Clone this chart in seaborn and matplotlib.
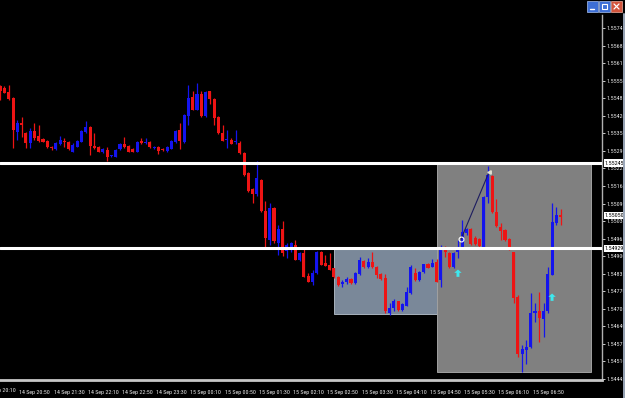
import os
import numpy as np
import pandas as pd
import seaborn as sns
import matplotlib
matplotlib.use("Agg")
import matplotlib.pyplot as plt
import matplotlib.transforms as mtransforms
from matplotlib import font_manager as fm
from matplotlib.font_manager import FontProperties
from matplotlib.textpath import TextPath
from matplotlib.patches import Rectangle
from matplotlib.path import Path

# ---------------- data (M5 candles) ----------------
opens = [1.55531, 1.55523, 1.55510, 1.55488, 1.55362, 1.55393, 1.55356, 1.55321, 1.55364, 1.55346,
         1.55334, 1.55327, 1.55306, 1.55297, 1.55316, 1.55328, 1.55325, 1.55288, 1.55306, 1.55325,
         1.55362, 1.55380, 1.55309, 1.55304, 1.55287, 1.55294, 1.55271, 1.55269, 1.55297, 1.55316,
         1.55309, 1.55297, 1.55288, 1.55328, 1.55321, 1.55325, 1.55301, 1.55304, 1.55297, 1.55289,
         1.55299, 1.55324, 1.55369, 1.55324, 1.55419, 1.55489, 1.55443, 1.55502, 1.55419, 1.55512,
         1.55484, 1.55415, 1.55357, 1.55330, 1.55332, 1.55325, 1.55320, 1.55283, 1.55209, 1.55149,
         1.55131, 1.55184, 1.55069, 1.54961, 1.55079, 1.54949, 1.54999, 1.54918, 1.54923, 1.54942,
         1.54886, 1.54911, 1.54827, 1.54806, 1.54837, 1.54915, 1.54874, 1.54868, 1.54855, 1.54824,
         1.54796, 1.54804, 1.54815, 1.54800, 1.54833, 1.54882, 1.54861, 1.54880, 1.54861, 1.54833,
         1.54818, 1.54689, 1.54707, 1.54732, 1.54701, 1.54717, 1.54763, 1.54837, 1.54812, 1.54841,
         1.54870, 1.54861, 1.54879, 1.54812, 1.54933, 1.54913, 1.54861, 1.54917, 1.54933, 1.54985,
         1.55000, 1.54967, 1.54963, 1.54935, 1.55119, 1.55198, 1.55065, 1.55010, 1.54997, 1.54963,
         1.54917, 1.54750, 1.54538, 1.54553, 1.54565, 1.54689, 1.54695, 1.54666, 1.54695, 1.54831,
         1.55022, 1.55053]
highs = [1.55535, 1.55529, 1.55535, 1.55490, 1.55405, 1.55417, 1.55362, 1.55374, 1.55394, 1.55387,
         1.55338, 1.55331, 1.55309, 1.55324, 1.55346, 1.55338, 1.55327, 1.55318, 1.55331, 1.55368,
         1.55401, 1.55383, 1.55356, 1.55307, 1.55300, 1.55305, 1.55275, 1.55296, 1.55320, 1.55343,
         1.55311, 1.55300, 1.55327, 1.55338, 1.55338, 1.55327, 1.55307, 1.55310, 1.55300, 1.55309,
         1.55331, 1.55366, 1.55394, 1.55426, 1.55534, 1.55512, 1.55542, 1.55512, 1.55513, 1.55513,
         1.55487, 1.55418, 1.55388, 1.55369, 1.55338, 1.55369, 1.55326, 1.55285, 1.55211, 1.55153,
         1.55254, 1.55186, 1.55104, 1.55097, 1.55081, 1.55017, 1.55030, 1.54949, 1.54953, 1.54960,
         1.54914, 1.54935, 1.54837, 1.54849, 1.54920, 1.54918, 1.54905, 1.54911, 1.54858, 1.54827,
         1.54812, 1.54821, 1.54818, 1.54840, 1.54898, 1.54886, 1.54892, 1.54917, 1.54864, 1.54837,
         1.54833, 1.54726, 1.54742, 1.54734, 1.54725, 1.54787, 1.54868, 1.54855, 1.54844, 1.54871,
         1.54874, 1.54890, 1.54890, 1.54942, 1.54938, 1.54916, 1.54917, 1.54960, 1.55034, 1.55004,
         1.55003, 1.54975, 1.54966, 1.55122, 1.55235, 1.55201, 1.55111, 1.55022, 1.55000, 1.54966,
         1.54917, 1.54756, 1.54571, 1.54590, 1.54763, 1.54726, 1.54769, 1.54726, 1.54859, 1.55096,
         1.55084, 1.55074]
lows = [1.55479, 1.55504, 1.55479, 1.55300, 1.55331, 1.55343, 1.55300, 1.55300, 1.55331, 1.55325,
        1.55322, 1.55301, 1.55294, 1.55294, 1.55312, 1.55306, 1.55294, 1.55285, 1.55303, 1.55322,
        1.55358, 1.55275, 1.55299, 1.55285, 1.55283, 1.55254, 1.55268, 1.55266, 1.55294, 1.55300,
        1.55285, 1.55285, 1.55285, 1.55316, 1.55316, 1.55301, 1.55298, 1.55280, 1.55290, 1.55287,
        1.55296, 1.55320, 1.55299, 1.55320, 1.55388, 1.55442, 1.55440, 1.55415, 1.55416, 1.55464,
        1.55388, 1.55353, 1.55326, 1.55301, 1.55314, 1.55314, 1.55279, 1.55199, 1.55138, 1.55097,
        1.55122, 1.55064, 1.54931, 1.54943, 1.54949, 1.54906, 1.54900, 1.54894, 1.54916, 1.54884,
        1.54882, 1.54821, 1.54803, 1.54794, 1.54834, 1.54866, 1.54862, 1.54847, 1.54818, 1.54790,
        1.54785, 1.54796, 1.54797, 1.54797, 1.54831, 1.54858, 1.54858, 1.54858, 1.54818, 1.54812,
        1.54689, 1.54682, 1.54695, 1.54698, 1.54698, 1.54714, 1.54759, 1.54809, 1.54809, 1.54837,
        1.54855, 1.54859, 1.54803, 1.54787, 1.54898, 1.54858, 1.54855, 1.54894, 1.54926, 1.54979,
        1.54943, 1.54942, 1.54935, 1.54933, 1.55096, 1.55059, 1.55010, 1.54960, 1.54958, 1.54923,
        1.54726, 1.54528, 1.54472, 1.54501, 1.54559, 1.54657, 1.54583, 1.54602, 1.54691, 1.54829,
        1.55016, 1.55016]
closes = [1.55514, 1.55506, 1.55482, 1.55368, 1.55395, 1.55387, 1.55321, 1.55364, 1.55337, 1.55328,
          1.55325, 1.55304, 1.55300, 1.55321, 1.55331, 1.55324, 1.55297, 1.55312, 1.55327, 1.55364,
          1.55380, 1.55309, 1.55301, 1.55288, 1.55297, 1.55267, 1.55274, 1.55294, 1.55316, 1.55304,
          1.55288, 1.55288, 1.55325, 1.55321, 1.55325, 1.55304, 1.55304, 1.55289, 1.55294, 1.55305,
          1.55328, 1.55363, 1.55326, 1.55423, 1.55487, 1.55443, 1.55502, 1.55419, 1.55509, 1.55484,
          1.55413, 1.55357, 1.55328, 1.55332, 1.55316, 1.55327, 1.55283, 1.55202, 1.55141, 1.55131,
          1.55190, 1.55067, 1.54968, 1.55079, 1.54955, 1.54999, 1.54912, 1.54943, 1.54948, 1.54886,
          1.54911, 1.54824, 1.54806, 1.54837, 1.54917, 1.54868, 1.54865, 1.54849, 1.54821, 1.54793,
          1.54806, 1.54816, 1.54800, 1.54837, 1.54886, 1.54861, 1.54880, 1.54861, 1.54831, 1.54816,
          1.54695, 1.54709, 1.54732, 1.54701, 1.54722, 1.54766, 1.54861, 1.54812, 1.54841, 1.54870,
          1.54858, 1.54874, 1.54806, 1.54935, 1.54917, 1.54861, 1.54913, 1.54933, 1.54991, 1.55000,
          1.54945, 1.54945, 1.54938, 1.55119, 1.55201, 1.55065, 1.55012, 1.54994, 1.54960, 1.54926,
          1.54744, 1.54538, 1.54555, 1.54565, 1.54691, 1.54695, 1.54670, 1.54695, 1.54834, 1.55028,
          1.55053, 1.55047]

time_labels = ["14 Sep 20:10", "14 Sep 20:50", "14 Sep 21:30", "14 Sep 22:10", "14 Sep 22:50",
               "14 Sep 23:30", "15 Sep 00:10", "15 Sep 00:50", "15 Sep 01:30", "15 Sep 02:10",
               "15 Sep 02:50", "15 Sep 03:30", "15 Sep 04:10", "15 Sep 04:50", "15 Sep 05:30",
               "15 Sep 06:10", "15 Sep 06:50"]
time_label_bars = [-4, 4, 12, 20, 28, 36, 44, 52, 60, 68, 76, 84, 92, 100, 108, 116, 124]

price_ticks = [1.55745, 1.55680, 1.55615, 1.55550, 1.55485, 1.55420, 1.55355, 1.55290, 1.55225,
               1.55160, 1.55095, 1.55030, 1.54965, 1.54900, 1.54835, 1.54770, 1.54705, 1.54640,
               1.54575, 1.54510, 1.54445]

hlines = [1.55245, 1.54929]
bid_price = 1.55050

rect_small = dict(x0=78, x1=102, p_low=1.54685, p_high=1.54929)
rect_big = dict(x0=102, x1=138, p_low=1.54472, p_high=1.55245)

trend_x = [107.7, 114.3]
trend_p = [1.54963, 1.55213]

arrow_x = [107, 129]
arrow_p = [1.54837, 1.54748]

# ---------------- style ----------------
sns.set_theme(style="dark", rc={"axes.facecolor": "black", "figure.facecolor": "black",
                                "axes.grid": False})
plt.rcParams["font.family"] = ["DejaVu Sans"]

W, H = 625, 398


def pick_font():
    """Pick the narrowest installed regular sans font for the tiny terminal-style labels."""
    allowed = {"liberation sans narrow", "liberation sans", "dejavu sans", "dejavu sans condensed",
               "noto sans", "noto sans condensed", "noto sans semicondensed",
               "noto sans extracondensed", "roboto", "roboto condensed", "open sans",
               "open sans condensed", "lato", "inter"}
    best = None
    for f in fm.fontManager.ttflist:
        fn = f.fname
        base = os.path.basename(fn).lower()
        if not base.endswith((".ttf", ".otf")):
            continue
        if f.name.lower() not in allowed or f.style != "normal":
            continue
        if f.weight not in (400, "normal", "regular", "book"):
            continue
        if any(k in base for k in ("bold", "italic", "oblique", "light", "thin", "black",
                                   "medium", "semibold", "extrabold", "mono")):
            continue
        try:
            fp = FontProperties(fname=fn)
            w = TextPath((0, 0), "1.55745", size=10, prop=fp).get_extents().width
            h = TextPath((0, 0), "1", size=10, prop=fp).get_extents().height
        except Exception:
            continue
        if h <= 0 or w <= 0:
            continue
        r = w / h
        if r < 2.8:
            continue
        if best is None or r < best[0]:
            best = (r, fn, w, h)
    return best


best = pick_font()
if best is None:
    font_path, w10, h10 = None, 41.3, 7.3
else:
    _, font_path, w10, h10 = best
target_w_px = 18.8
fs = target_w_px * 72 / 100 * 10 / w10
fs = min(fs, 5.6 * 72 / 100 * 10 / h10)


def fprop():
    if font_path:
        return FontProperties(fname=font_path, size=fs)
    return FontProperties(family="DejaVu Sans", size=fs)


fig = plt.figure(figsize=(W / 100, H / 100), dpi=100, facecolor="black")
top_px, bot_px, right_px = 15, 380, 602
ax = fig.add_axes([0, 1 - bot_px / H, right_px / W, (bot_px - top_px) / H])
ax.set_facecolor("black")

df = pd.DataFrame({"open": opens, "high": highs, "low": lows, "close": closes})
df["bar"] = np.arange(len(df))
bull = df["close"] >= df["open"]
col_up, col_dn = "#1414ee", "#ee1414"
colors = np.where(bull, col_up, col_dn)

body_lo = np.minimum(df["open"], df["close"])
body_h = np.maximum(np.abs(df["close"] - df["open"]), 0.00003)

# rectangles (background objects)
ax.add_patch(Rectangle((rect_small["x0"], rect_small["p_low"]), rect_small["x1"] - rect_small["x0"],
                       rect_small["p_high"] - rect_small["p_low"], facecolor="#7a8899",
                       edgecolor="#a8b2bc", lw=0.7, zorder=1))
ax.add_patch(Rectangle((rect_big["x0"], rect_big["p_low"]), rect_big["x1"] - rect_big["x0"],
                       rect_big["p_high"] - rect_big["p_low"], facecolor="#808080",
                       edgecolor="#a0a0a0", lw=0.7, zorder=1))

# candles
ax.vlines(df["bar"], df["low"], df["high"], colors=colors, lw=0.9, zorder=3)
ax.bar(df["bar"], body_h, bottom=body_lo, width=0.72, color=colors, linewidth=0, zorder=4)

# horizontal lines
for p in hlines:
    ax.axhline(p, color="white", lw=2.2, zorder=6)

# trend line
ax.plot(trend_x, trend_p, color="#1c1c60", lw=0.8, zorder=7)
ax.plot([trend_x[0]], [trend_p[0]], marker="o", ms=3.5, mfc="none", mec="white", mew=0.8, zorder=8)
ax.plot([trend_x[1]], [trend_p[1]], marker="<", ms=2.5, mfc="#e0e0d0", mec="#e0e0d0", zorder=8)

# cyan arrows
arrow_path = Path([(0, 1), (-1, 0.1), (-0.4, 0.1), (-0.4, -1), (0.4, -1), (0.4, 0.1), (1, 0.1), (0, 1)],
                  [Path.MOVETO] + [Path.LINETO] * 6 + [Path.CLOSEPOLY])
sns.scatterplot(x=arrow_x, y=arrow_p, marker=arrow_path, s=28, color="#3ee8ee", edgecolor="none",
                ax=ax, zorder=9, legend=False)

# limits
ax.set_xlim(-0.05, 140.67)
ax.set_ylim(1.54441, 1.55794)

# spines
for s in ["left", "top"]:
    ax.spines[s].set_visible(False)
ax.spines["right"].set_color("#b0b0b0")
ax.spines["right"].set_linewidth(1.0)
ax.spines["bottom"].set_color("#c8c8c8")
ax.spines["bottom"].set_linewidth(2.0)

txt_col = "#e8e8e8"

# y axis (right)
ax.yaxis.tick_right()
ax.set_yticks(price_ticks)
ax.set_yticklabels([f"{p:.5f}" for p in price_ticks])
ax.tick_params(axis="y", colors=txt_col, length=2.2, width=0.6, pad=1.0,
               direction="out", right=True, left=False)
for lab in ax.get_yticklabels():
    lab.set_fontproperties(fprop())

# x axis
xt = [b for b in time_label_bars if b >= 0]
xl = [l for b, l in zip(time_label_bars, time_labels) if b >= 0]
ax.set_xticks(xt)
ax.set_xticklabels(xl)
ax.tick_params(axis="x", colors=txt_col, length=6, width=0.6, pad=1.5, direction="out")
off = mtransforms.ScaledTranslation(2 / 100, 0, fig.dpi_scale_trans)
for lab in ax.get_xticklabels():
    lab.set_fontproperties(fprop())
    lab.set_horizontalalignment("left")
    lab.set_transform(lab.get_transform() + off)
for b, l in zip(time_label_bars, time_labels):
    if b < 0:
        ax.annotate(l, xy=(b, 0), xycoords=("data", "axes fraction"), xytext=(2, -8),
                    textcoords="offset pixels", ha="left", va="top", fontproperties=fprop(),
                    color=txt_col, annotation_clip=False)

# highlighted price labels on the right scale
bt = mtransforms.blended_transform_factory(ax.transAxes, ax.transData)
for p in hlines + [bid_price]:
    ax.annotate(f"{p:.5f}", xy=(1.0, p), xycoords=bt, xytext=(3, 0), textcoords="offset pixels",
                ha="left", va="center", fontproperties=fprop(), color="black",
                annotation_clip=False,
                bbox=dict(boxstyle="square,pad=0.2", facecolor="white", edgecolor="none"), zorder=10)


# window frame details (top-right buttons, right border)
def px_rect(x, y, w, h, **kw):
    fig.add_artist(Rectangle((x / W, 1 - (y + h) / H), w / W, h / H, transform=fig.transFigure, **kw))


px_rect(587, 1, 11, 11, facecolor="#3d6fd6", edgecolor="#a9c2f0", lw=0.5)
px_rect(599, 1, 11, 11, facecolor="#3d6fd6", edgecolor="#a9c2f0", lw=0.5)
px_rect(611, 1, 11, 11, facecolor="#d2543c", edgecolor="#f0b0a0", lw=0.5)
fig.add_artist(plt.Line2D([590 / W, 594 / W], [1 - 9 / H, 1 - 9 / H], color="white", lw=1,
                          transform=fig.transFigure))
px_rect(602, 4, 5, 5, facecolor="none", edgecolor="white", lw=0.8)
fig.add_artist(plt.Line2D([614 / W, 619 / W], [1 - 4 / H, 1 - 9 / H], color="white", lw=0.9,
                          transform=fig.transFigure))
fig.add_artist(plt.Line2D([614 / W, 619 / W], [1 - 9 / H, 1 - 4 / H], color="white", lw=0.9,
                          transform=fig.transFigure))
fig.add_artist(plt.Line2D([624 / W, 624 / W], [0, 1 - 14 / H], color="#9aa6b8", lw=1.4,
                          transform=fig.transFigure))

fig.savefig("out.png", dpi=100, facecolor="black")
